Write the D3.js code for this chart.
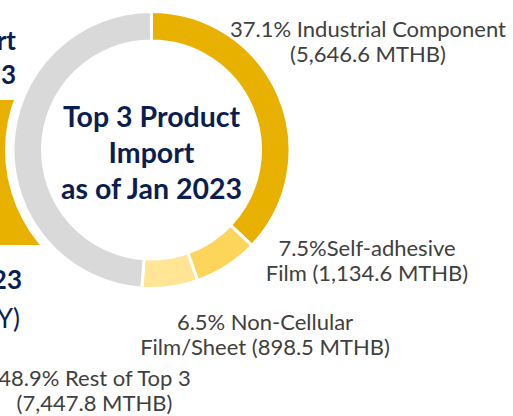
<!DOCTYPE html>
<html>
<head>
<meta charset="utf-8">
<script src="https://cdn.jsdelivr.net/npm/d3@7"></script>
<style>
  body { margin: 0; background: #fff; }
  svg { display: block; font-family: "Lato", "Open Sans", sans-serif; }
</style>
</head>
<body>
<div id="vis-donut"></div>
<script>
// Data ----------------------------------------------------------------------------------------------------------------
const categories = ["Industrial Component", "Self-adhesive Film", "Non-Cellular Film/Sheet", "Rest of Top 3"];
const shares = [37.1, 7.5, 6.5, 48.9];
const valuesMTHB = [5646.6, 1134.6, 898.5, 7447.8];
const sliceColors = ["#E8B100", "#FED55B", "#FFE594", "#D9D9D9"];
const labelLines = [
  ["37.1% Industrial Component", "(5,646.6 MTHB)"],
  ["7.5%Self-adhesive", "Film (1,134.6 MTHB)"],
  ["6.5% Non-Cellular", "Film/Sheet (898.5 MTHB)"],
  ["48.9% Rest of Top 3", "(7,447.8 MTHB)"]
];
const titleLines = ["Top 3 Product", "Import", "as of Jan 2023"];

// Canvas --------------------------------------------------------------------------------------------------------------
const canvasWidth = 513;
const canvasHeight = 416;
const cx = 151.5;
const cy = 150;
const outerRadius = 138.5;
const innerRadius = 109;

const navy = "#0C1E4F";
const labelGrey = "#404040";

const svg = d3.select("#vis-donut")
  .append("svg")
  .attr("width", canvasWidth)
  .attr("height", canvasHeight);

// Neighbouring panel, cut off at the left edge
svg.append("rect")
  .attr("x", -10)
  .attr("y", 100)
  .attr("width", 80)
  .attr("height", 145)
  .attr("fill", "#E8B100");

svg.append("circle")
  .attr("cx", cx)
  .attr("cy", cy)
  .attr("r", outerRadius + 8)
  .attr("fill", "#fff");

const leftText = [
  { t: "rt", y: 50, w: "bold", x: 16 },
  { t: "3", y: 84, w: "bold", x: 16 },
  { t: "23", y: 289, w: "bold", x: 22 },
  { t: "Y)", y: 328, w: "normal", x: 20 }
];
svg.selectAll("text.left")
  .data(leftText)
  .join("text")
  .attr("class", "left")
  .attr("x", d => d.x)
  .attr("y", d => d.y)
  .attr("text-anchor", "end")
  .attr("fill", navy)
  .style("font-weight", d => d.w)
  .style("font-size", "26px")
  .text(d => d.t);

// Donut ---------------------------------------------------------------------------------------------------------------
const pie = d3.pie()
  .sort(null)
  .value(d => d);

const arc = d3.arc()
  .innerRadius(innerRadius)
  .outerRadius(outerRadius);

const donut = svg.append("g")
  .attr("transform", "translate(" + cx + "," + cy + ")");

donut.selectAll("path")
  .data(pie(shares))
  .join("path")
  .attr("d", arc)
  .attr("fill", (d, i) => sliceColors[i])
  .attr("stroke", "#fff")
  .attr("stroke-width", 3);

// Centre title
donut.selectAll("text.title")
  .data(titleLines)
  .join("text")
  .attr("class", "title")
  .attr("x", 0)
  .attr("y", (d, i) => -23 + i * 36)
  .attr("text-anchor", "middle")
  .attr("fill", navy)
  .style("font-weight", "bold")
  .style("font-size", "28.5px")
  .text(d => d);

// Slice labels
const labelPos = [
  { x: 368, y: 37 },
  { x: 367, y: 256 },
  { x: 265, y: 330 },
  { x: 94.5, y: 386 }
];

labelLines.forEach(function(lines, i) {
  svg.append("text")
    .attr("x", labelPos[i].x)
    .attr("y", labelPos[i].y)
    .attr("text-anchor", "middle")
    .attr("fill", labelGrey)
    .style("font-size", "22px")
    .selectAll("tspan")
    .data(lines)
    .join("tspan")
    .attr("x", labelPos[i].x)
    .attr("dy", (d, j) => j === 0 ? 0 : 25)
    .text(d => d);
});
</script>
</body>
</html>
